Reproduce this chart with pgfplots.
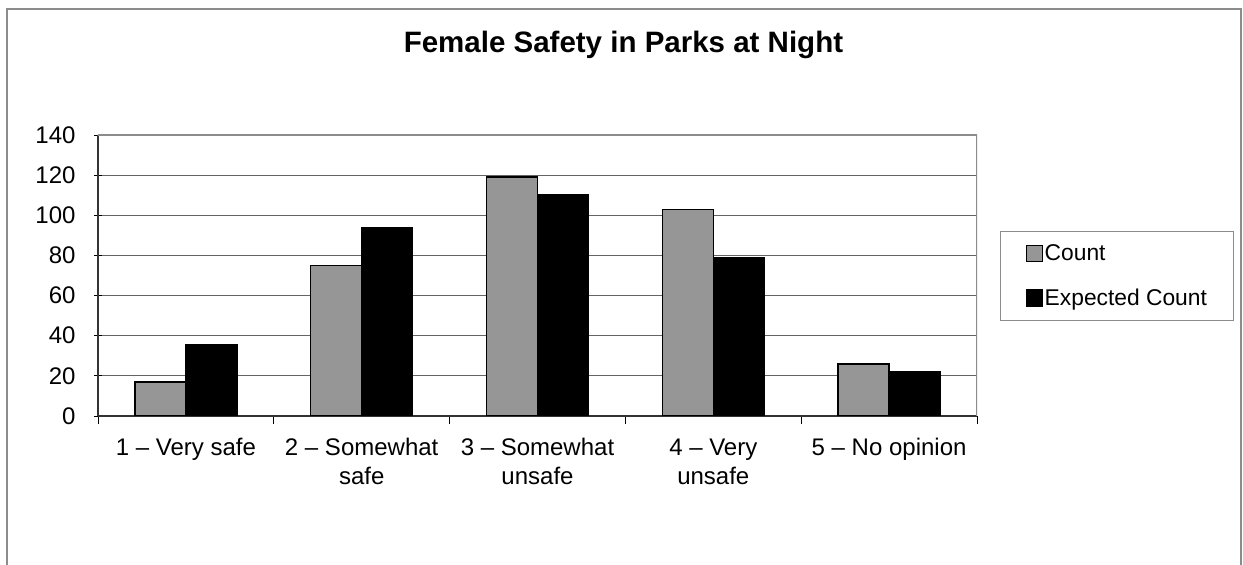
\documentclass[border=0pt]{standalone}
\usepackage{fontspec}
\setmainfont{Liberation Sans}
\usepackage{pgfplots}
\pgfplotsset{compat=1.18}
\definecolor{barGray}{RGB}{150,150,150}
\definecolor{gridGray}{RGB}{100,100,100}
\definecolor{frameGray}{RGB}{140,140,140}
\begin{document}
\begin{tikzpicture}[x=1pt,y=1pt]
\path[use as bounding box] (0,0) rectangle (1243,565);
\draw[frameGray, line width=1.2pt] (7,-10) rectangle (1241,556);
\begin{axis}[
  at={(98pt,149pt)}, anchor=south west,
  width=879pt, height=281pt, scale only axis,
  xmin=0, xmax=5, ymin=0, ymax=140,
  ytick={0,20,...,140},
  xtick={0.5,1.5,2.5,3.5,4.5},
  xticklabels={{1 -- Very safe},{2 -- Somewhat\\[2pt]safe},{3 -- Somewhat\\[2pt]unsafe},{4 -- Very\\[2pt]unsafe},{5 -- No opinion}},
  minor xtick={0,1,2,3,4,5},
  x tick style={draw=none},
  minor x tick style={draw=black, line width=0.8pt},
  y tick style={draw=black, line width=0.8pt},
  major tick length=8pt, minor tick length=8pt,
  tick align=outside,
  axis lines=left,
  axis line style={-, draw=black!80, line width=1.2pt},
  ymajorgrids,
  grid style={gridGray, line width=0.9pt},
  /pgf/number format/assume math mode=true,
  tick label style={font=\fontsize{24}{27}\selectfont},
  yticklabel style={xshift=-15pt},
  xticklabel style={align=center, yshift=-11pt},
  ybar=0pt, bar width=51pt,
  title={\bfseries Female Safety in Parks at Night},
  title style={font=\fontsize{29.5}{34}\selectfont, at={(axis description cs:0.5978,1.2705)}, anchor=base},
  legend style={at={(axis description cs:1.0262,0.658)}, anchor=north west,
    draw=frameGray, line width=1pt, font=\fontsize{22.8}{26}\selectfont,
    inner xsep=25pt, inner ysep=11pt, row sep=23pt, nodes={inner sep=2pt}, cells={anchor=west}},
  legend image code/.code={\draw[#1, line width=1.2pt] (0pt,-8pt) rectangle (16pt,8pt);},
]
\addplot[fill=barGray, draw=black, line width=1.4pt] coordinates {(0.5,17) (1.5,75) (2.5,119) (3.5,103) (4.5,26)};
\addplot[fill=black, draw=black, line width=1.4pt] coordinates {(0.5,35.5) (1.5,93.7) (2.5,110.4) (3.5,78.7) (4.5,22.1)};
\legend{Count, Expected Count}
\draw[frameGray, line width=1.5pt] (rel axis cs:0,1) -- (rel axis cs:1,1) -- (rel axis cs:1,0);
\end{axis}
\end{tikzpicture}
\end{document}
